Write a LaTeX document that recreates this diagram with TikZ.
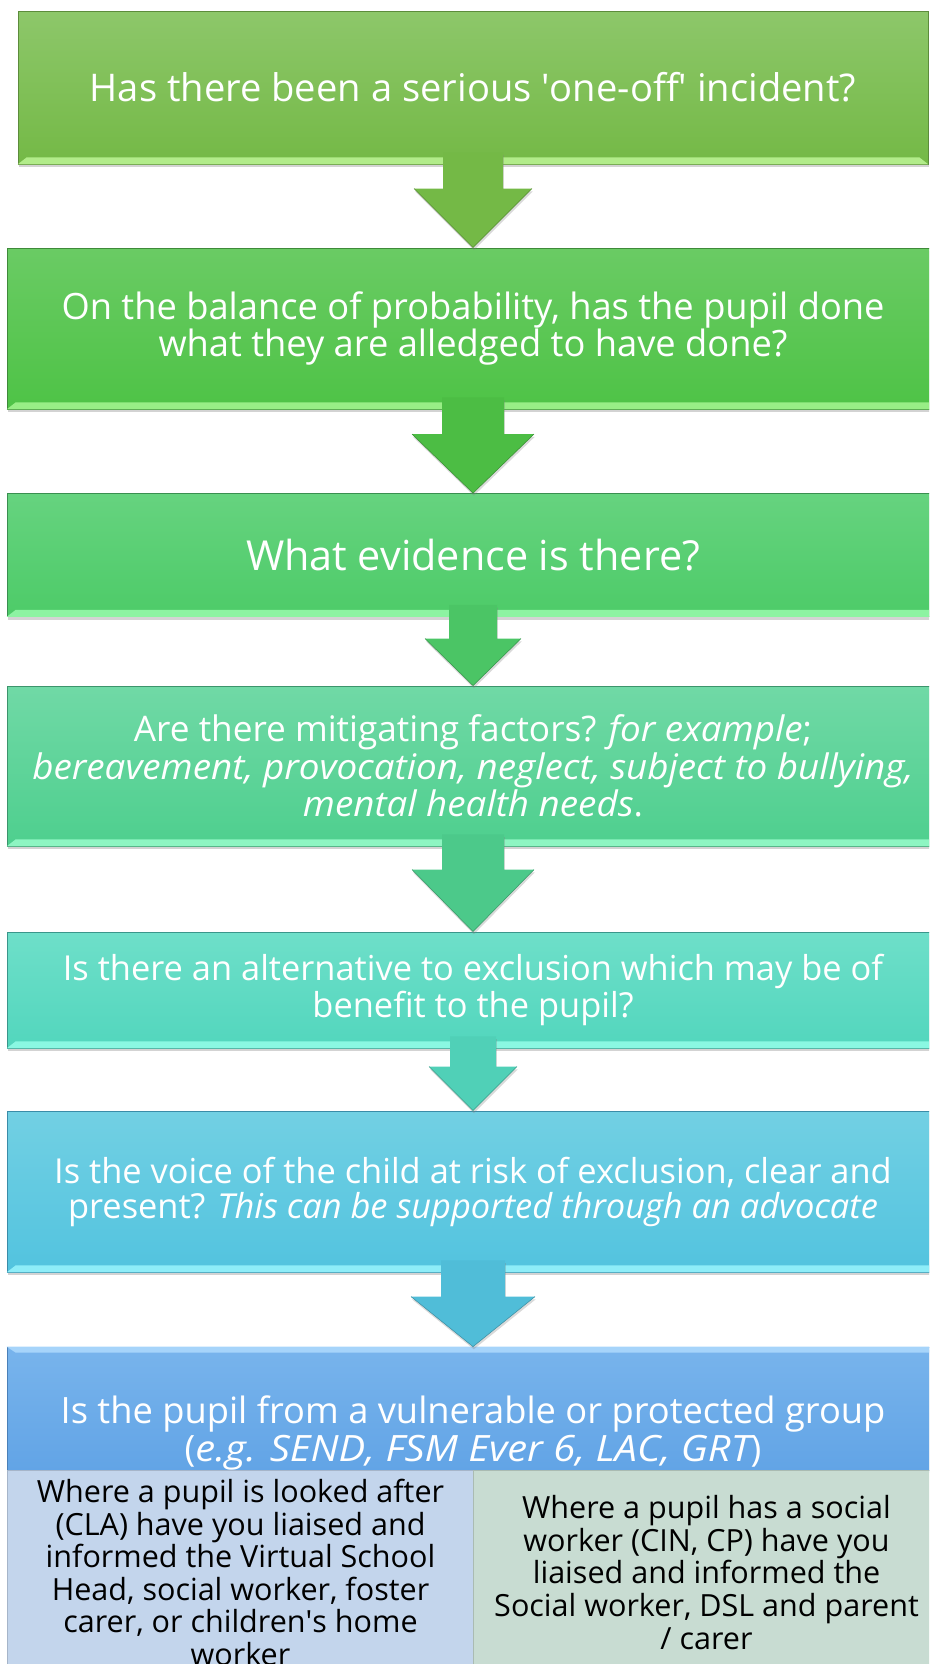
\documentclass[tikz,border=0pt]{standalone}
\usepackage{fontspec}
\setmainfont{Open Sans}
\newfontfamily\stretchit{Open Sans}[FakeStretch=1.045]
\newfontfamily\widerit{Open Sans}[FakeStretch=1.10]
\usetikzlibrary{calc,shadows}

\definecolor{g1t}{HTML}{8DC76A}\definecolor{g1b}{HTML}{74B946}\definecolor{g1s}{HTML}{B2EC8A}\definecolor{g1e}{HTML}{5C8C3B}
\definecolor{g2t}{HTML}{6ACB64}\definecolor{g2b}{HTML}{4EC346}\definecolor{g2s}{HTML}{98EE86}\definecolor{g2e}{HTML}{3F8A3A}
\definecolor{g3t}{HTML}{66D37F}\definecolor{g3b}{HTML}{4DCB68}\definecolor{g3s}{HTML}{8DF3A2}\definecolor{g3e}{HTML}{3A8F50}
\definecolor{g4t}{HTML}{70D9A6}\definecolor{g4b}{HTML}{4ECF8E}\definecolor{g4s}{HTML}{8EF5C2}\definecolor{g4e}{HTML}{3C946C}
\definecolor{g5t}{HTML}{6EDFC9}\definecolor{g5b}{HTML}{52D6BD}\definecolor{g5s}{HTML}{8AF8E2}\definecolor{g5e}{HTML}{3A968B}
\definecolor{g6t}{HTML}{72D0E3}\definecolor{g6b}{HTML}{52C3DF}\definecolor{g6s}{HTML}{8EEDF8}\definecolor{g6e}{HTML}{3A8CA8}
\definecolor{g7t}{HTML}{78B4EC}\definecolor{g7b}{HTML}{62A4E6}\definecolor{g7s}{HTML}{A6D4FA}\definecolor{g7e}{HTML}{4A80B8}
\definecolor{colCLA}{HTML}{C3D5EC}
\definecolor{colCIN}{HTML}{C8DCD2}

\tikzset{
    stage/.style={rectangle, draw=#1e, line width=0.6pt, top color=#1t, bottom color=#1b,
        minimum width=699pt, align=center, text=white, inner sep=0pt,
        drop shadow={shadow xshift=0.8pt, shadow yshift=-2.4pt, opacity=0.35}},
    column/.style={rectangle, fill=#1, draw=#1!85!black, line width=0.4pt,
        minimum width=350.25pt, minimum height=153.75pt, align=center, text=black, inner sep=0pt,
        font=\fontsize{22.9}{24.4}\selectfont},
}

% light strip along the lower edge of a box
\newcommand{\bevel}[2]{
\fill[#2] (#1.south west) -- (#1.south east) -- ($(#1.south east)+(-9,-7)$) -- ($(#1.south west)+(9,-7)$) -- cycle;
}
% block arrow from one box down to the next
\newcommand{\flowarrow}[6]{
\fill[#6, drop shadow={shadow xshift=0.6pt, shadow yshift=-2pt, opacity=0.3}] ($(#1.south)+(-#3,-12)$) -- ($(#1.south)+(#3,-12)$) -- ($(#2.north)+(#3,-#5)$) -- ($(#2.north)+(#4,-#5)$) -- (#2.north) -- ($(#2.north)+(-#4,-#5)$) -- ($(#2.north)+(-#3,-#5)$) -- cycle;
\draw[#6!75!black, line width=0.4pt] ($(#2.north)+(-#4,-#5)$) -- (#2.north) -- ($(#2.north)+(#4,-#5)$);
}

\begin{document}
\begin{tikzpicture}[x=0.75pt,y=0.75pt,yscale=-1,xscale=1]
\useasboundingbox (0,0) rectangle (929,1664);
\clip (0,0) rectangle (929,1664);
%Boxes
\node[stage=g1, minimum width=682.5pt, minimum height=114.75pt, font=\fontsize{28.6}{30}\selectfont] (q1) at (473,87.5) {Has there been a serious \textquotesingle one-off\textquotesingle\ incident?};
\node[stage=g2, minimum height=120.75pt, font=\fontsize{27.2}{25.5}\selectfont] (q2) at (473,328.5) {On the balance of probability, has the pupil done\\what they are alledged to have done?};
\node[stage=g3, minimum height=92.25pt, font=\fontsize{31}{33}\selectfont] (q3) at (473,555) {What evidence is there?};
\node[stage=g4, minimum height=120pt, font=\fontsize{26.4}{28}\selectfont] (q4) at (473,766) {Are there mitigating factors? {\stretchit\itshape for example};\\{\stretchit\itshape bereavement, provocation, neglect, subject to bullying,}\\{\stretchit\itshape mental health needs}.};
\node[stage=g5, minimum height=87pt, font=\fontsize{25.8}{27.75}\selectfont] (q5) at (473,990) {Is there an alternative to exclusion which may be of\\benefit to the pupil?};
\node[stage=g6, minimum height=120.75pt, font=\fontsize{25.8}{26.25}\selectfont] (q6) at (473,1191.5) {Is the voice of the child at risk of exclusion, clear and\\present? \textit{This can be supported through an advocate}};
\node[stage=g7, minimum height=92.25pt] (q7) at (473,1408.5) {};
%Bevels
\bevel{q1}{g1s}
\bevel{q2}{g2s}
\bevel{q3}{g3s}
\bevel{q4}{g4s}
\bevel{q5}{g5s}
\bevel{q6}{g6s}
\fill[g7s] (q7.north west) -- (q7.north east) -- ($(q7.north east)+(-9,6)$) -- ($(q7.north west)+(9,6)$) -- cycle;
%Group question and its two columns
\node[align=center, text=white, font=\fontsize{27.2}{28.5}\selectfont] (q7text) at (473,1433) {Is the pupil from a vulnerable or protected group\\({\widerit\itshape e.g. SEND, FSM Ever 6, LAC, GRT})};
\node[column=colCLA] (cla) at (240.5,1572.5) {Where a pupil is looked after\\(CLA) have you liaised and\\informed the Virtual School\\Head, social worker, foster\\carer, or children\textquotesingle s home\\worker};
\node[column=colCIN] (cin) at (706.5,1572.5) {Where a pupil has a social\\worker (CIN, CP) have you\\liaised and informed the\\Social worker, DSL and parent\\/ carer};
%Arrows
\flowarrow{q1}{q2}{30}{59}{59}{g1b}
\flowarrow{q2}{q3}{31}{61}{59}{g2b!97!black}
\flowarrow{q3}{q4}{24}{48}{47}{g3b!97!black}
\flowarrow{q4}{q5}{31}{61}{62}{g4b!97!black}
\flowarrow{q5}{q6}{23}{44}{44}{g5b!97!black}
\flowarrow{q6}{q7}{32}{62}{50}{g6b!97!black}
\end{tikzpicture}
\end{document}
